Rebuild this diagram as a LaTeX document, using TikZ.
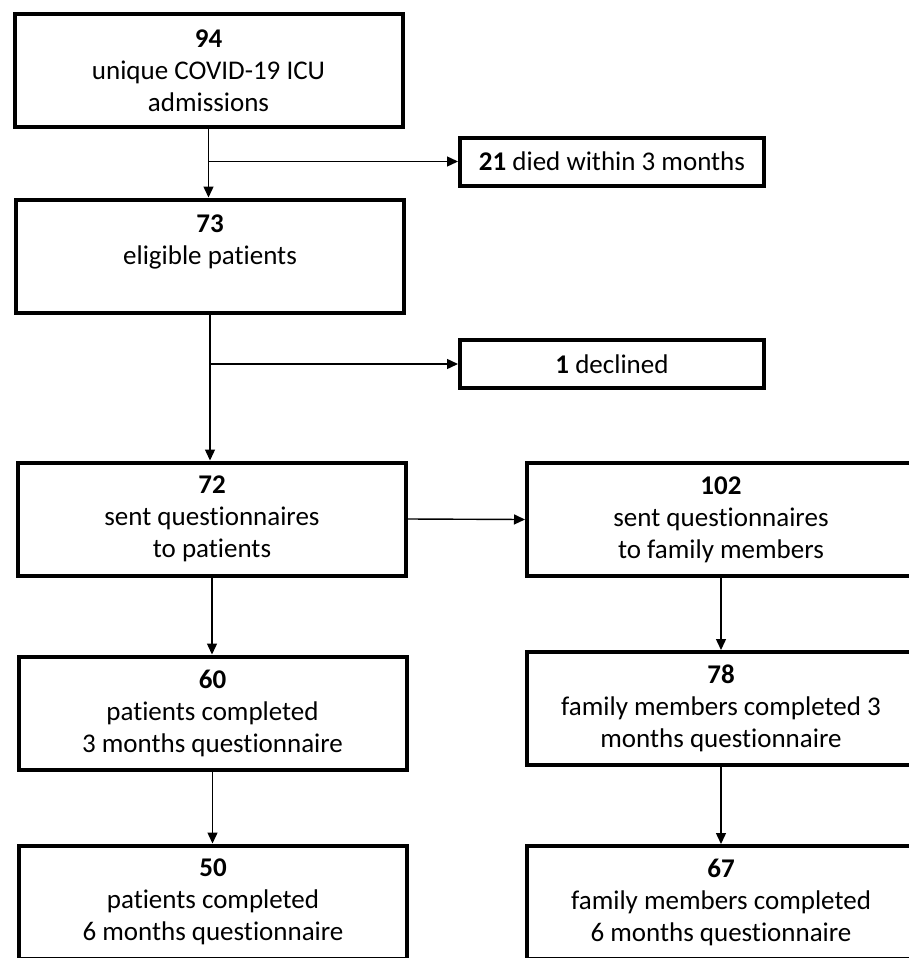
\documentclass[tikz,border=0pt]{standalone}
\usepackage{fontspec}
\setmainfont{Carlito}[Ligatures=NoCommon]
\usetikzlibrary{arrows.meta}
\begin{document}
\begin{tikzpicture}[x=0.5pt,y=-0.5pt]
\tikzstyle{every node}+=[inner sep=0pt,align=center,font=\fontsize{13.5}{16}\selectfont]
\tikzstyle{box}=[draw=black,line width=2pt,minimum width=194pt,minimum height=56.5pt]
\tikzstyle{side}=[draw=black,line width=2pt,minimum width=152pt,minimum height=24pt]
\tikzstyle{arr}=[draw=black,line width=0.7pt,-{Triangle[length=5.5pt,width=5pt]}]
\clip (0,0) rectangle (909,958);
\node [box] (n94) at (208.5,70.5) {\textbf{94}\\unique COVID-19 ICU\\admissions};
\node [side] (d21) at (612,161.5) {\textbf{21} died within 3 months};
\node [box] (n73) at (210,256) {\textbf{73}\\eligible patients\\~};
\node [side] (d1) at (612,364) {\textbf{1} declined};
\node [box] (n72) at (212,519) {\textbf{72}\\sent questionnaires\\to patients};
\node [box] (f102) at (721,519.5) {\textbf{102}\\sent questionnaires\\to family members};
\node [box] (n60) at (212.5,713) {\textbf{60}\\patients completed\\3 months questionnaire};
\node [box] (f78) at (721,708.5) {\textbf{78}\\family members completed 3\\months questionnaire};
\node [box] (n50) at (213,902) {\textbf{50}\\patients completed\\6 months questionnaire};
\node [box] (f67) at (721,902.5) {\textbf{67}\\family members completed\\6 months questionnaire};
\coordinate (b1) at (n94.south |- d21.west);
\coordinate (b2) at (n73.south |- d1.west);
\draw [arr] (n94.south) -- (n94.south |- n73.north);
\draw [arr] (b1) -- (d21.west);
\draw [arr] (n73.south) -- (n73.south |- n72.north);
\draw [arr] (b2) -- (d1.west);
\draw [arr] (n72.east) -- (f102.west);
\draw [arr] (n72.south) -- (n72.south |- n60.north);
\draw [arr] (n60.south) -- (n60.south |- n50.north);
\draw [arr] (f102.south) -- (f102.south |- f78.north);
\draw [arr] (f78.south) -- (f78.south |- f67.north);
\end{tikzpicture}
\end{document}
